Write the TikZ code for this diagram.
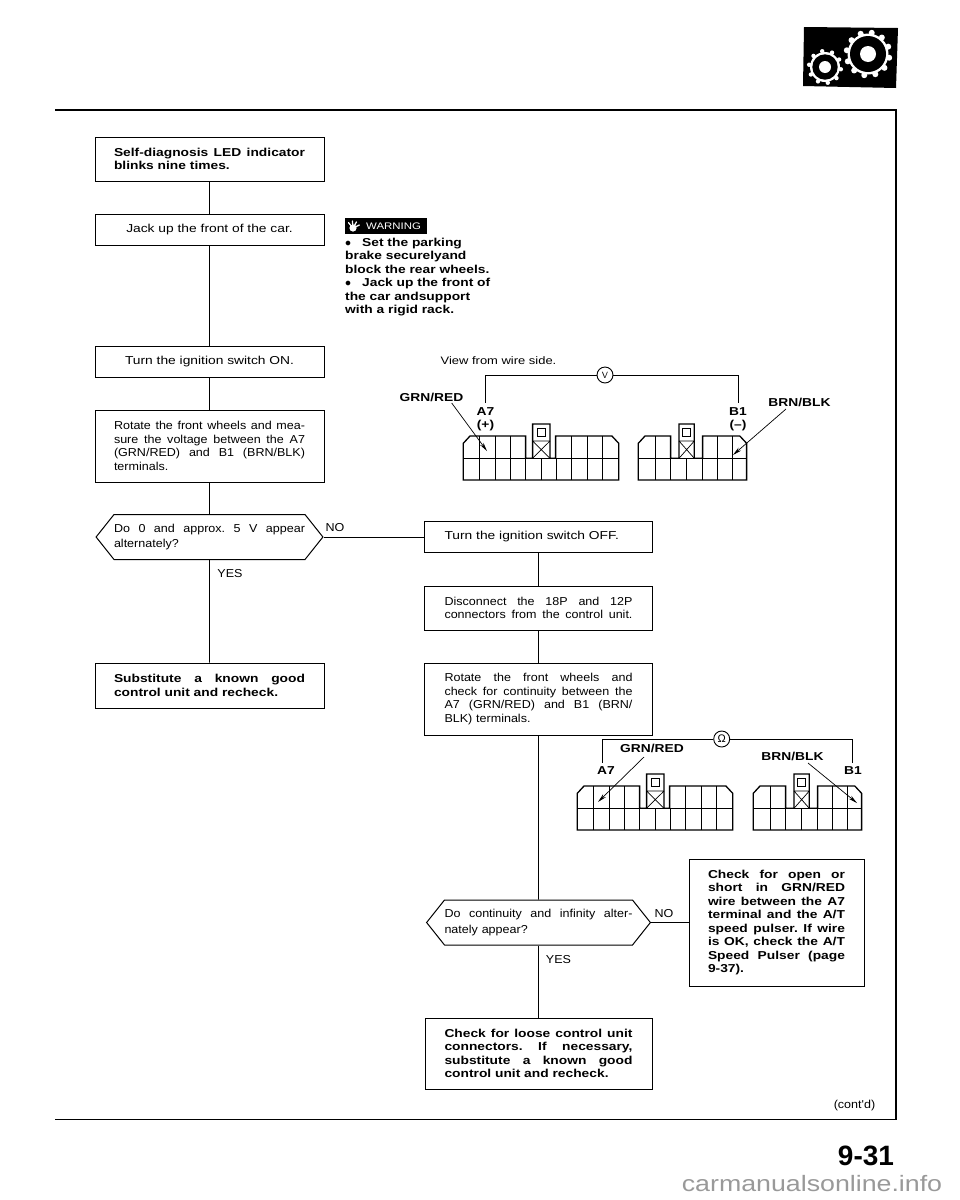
\documentclass[tikz,border=0pt]{standalone}
\usepackage{fontspec}
\setmainfont{Liberation Sans}
\newfontfamily\widefont[FakeStretch=1.2]{Liberation Sans}
\newfontfamily\midfont[FakeStretch=1.09]{Liberation Sans}
\usetikzlibrary{arrows.meta, shapes.symbols}

\newcommand{\fl}[1]{\makebox[\linewidth][s]{\spaceskip=.25em plus 1fil\xspaceskip=\spaceskip\relax #1}}

\tikzset{
    flowbox/.style={draw, line width=1pt, fill=white, inner xsep=0pt, inner ysep=0pt, align=left},
    plainlbl/.style={font=\midfont\fontsize{11.5}{13.5}\selectfont},
    boldlbl/.style={font=\widefont\bfseries\fontsize{11.5}{13.5}\selectfont},
    singlelbl/.style={font=\widefont\fontsize{11.5}{13.5}\selectfont},
    decision/.style={draw, line width=1pt, shape=signal, signal to=west and east, signal pointer angle=103, inner xsep=0pt, inner ysep=0pt, align=left},
    wire/.style={line width=0.9pt},
    pointer/.style={line width=0.7pt, -{Stealth[length=9pt,width=4pt]}},
    meter/.style={draw, circle, line width=0.9pt, fill=white, minimum size=16pt, inner sep=0pt},
    largeplug/.pic={
        \draw[line width=1.3pt] (0,44) -- (0,7.3) -- (6.7,0) -- (62.3,0) -- (62.3,22.3) -- (69.3,22.3) -- (69.3,-12) -- (86.7,-12) -- (86.7,22.3) -- (92.3,22.3) -- (92.3,0) -- (148.6,0) -- (155.4,7.3) -- (155.4,44) -- cycle;
        \draw[line width=0.7pt] (0,22.3) -- (155.4,22.3);
        \foreach \cx in {16.3,31.7,47,108.3,123.7,139} \draw[line width=0.7pt] (\cx,0) -- (\cx,44);
        \foreach \cx in {62.3,77.7,93} \draw[line width=0.7pt] (\cx,22.3) -- (\cx,44);
        \draw[line width=0.7pt] (69.3,5) -- (86.7,5) (69.3,5) -- (86.7,22.3) (86.7,5) -- (69.3,22.3);
        \draw[line width=0.7pt] (74,-8) rectangle (82,0);
    },
    smallplug/.pic={
        \draw[line width=1.3pt] (0,44) -- (0,7.3) -- (6.7,0) -- (32.3,0) -- (32.3,22.3) -- (40.7,22.3) -- (40.7,-12) -- (56,-12) -- (56,22.3) -- (64.3,22.3) -- (64.3,0) -- (101.5,0) -- (108.3,7.3) -- (108.3,44) -- cycle;
        \draw[line width=0.7pt] (0,22.3) -- (108.3,22.3);
        \foreach \cx in {16.7,79,93.7} \draw[line width=0.7pt] (\cx,0) -- (\cx,44);
        \foreach \cx in {32.3,48.3,64.3} \draw[line width=0.7pt] (\cx,22.3) -- (\cx,44);
        \draw[line width=0.7pt] (40.7,5) -- (56,5) (40.7,5) -- (56,22.3) (56,5) -- (40.7,22.3);
        \draw[line width=0.7pt] (44.5,-8) rectangle (52,0);
    },
}

\begin{document}
\begin{tikzpicture}[x=1pt, y=-1pt]
    \useasboundingbox (0,0) rectangle (960,1200);

    % page frame
    \draw[line width=1.2pt] (55,110) -- (896,110) -- (896,1119.5) -- (55,1119.5);

    % gear badge
    \fill (804,27) -- (898,28) -- (896,88) -- (803,86) -- cycle;
    \fill[white] (868,54) circle (20.5);
    \foreach \a in {0,30,...,330} \fill[white] (868,54) ++(\a+10:21.5) circle (3);
    \fill (868,54) circle (18);
    \fill[white] (868,54) circle (8);
    \fill[white] (825,67) circle (15);
    \foreach \a in {0,36,...,324} \fill[white] (825,67) ++(\a+8:16) circle (2.2);
    \fill (825,67) circle (12.7);
    \fill[white] (825,67) circle (6);

    % left column
    \node[flowbox, boldlbl, minimum width=229pt, minimum height=44pt, text width=191pt] (selfdiag) at (209.5,159) {\fl{Self-diagnosis LED indicator}\\blinks nine times.};
    \node[flowbox, singlelbl, minimum width=229pt, minimum height=31pt, align=center] (jackup) at (209.5,229.5) {Jack up the front of the car.};
    \node[flowbox, singlelbl, minimum width=229pt, minimum height=31pt, align=center] (turnon) at (209.5,361.5) {Turn the ignition switch ON.};
    \node[flowbox, plainlbl, minimum width=229pt, minimum height=72pt, text width=191pt] (measure) at (209.5,446) {\fl{Rotate the front wheels and mea-}\\\fl{sure the voltage between the A7}\\\fl{(GRN/RED) and B1 (BRN/BLK)}\\terminals.};
    \node[decision, plainlbl, minimum height=45pt, text width=191pt] (alternate) at (209.5,537) {\fl{Do 0 and approx. 5 V appear}\\[1.5pt]alternately?};
    \node[flowbox, boldlbl, minimum width=229pt, minimum height=45pt, text width=191pt] (substitute) at (209.5,685.5) {\fl{Substitute a known good}\\control unit and recheck.};

    \draw[wire] (selfdiag) -- (jackup);
    \draw[wire] (jackup) -- (turnon);
    \draw[wire] (turnon) -- (measure);
    \draw[wire] (measure) -- (alternate);
    \draw[wire] (alternate) -- (substitute);

    \node[plainlbl] (yesleft) at (230,574) {YES};
    \node[plainlbl] (noleft) at (335,528) {NO};

    % warning note
    \fill (345,218) rectangle (427,234);
    \fill[white] (353,228) circle (3.6);
    \foreach \a in {-60,-25,10,45} \draw[white, line width=1.3pt, line cap=round] (353,228) -- ++(\a-90+20:7);
    \node[anchor=west, text=white, font=\widefont\fontsize{9.5}{11}\selectfont, inner sep=0pt] (warnlbl) at (366,226) {WARNING};
    \node[boldlbl, anchor=north west, inner sep=0pt, align=left] (warntext) at (345,237.5) {%
        \makebox[17pt][l]{$\bullet$}Set the parking\\brake securelyand\\block the rear wheels.\\\makebox[17pt][l]{$\bullet$}Jack up the front of\\the car andsupport\\with a rigid rack.};

    % first connector view
    \node[font=\widefont\fontsize{10.8}{13}\selectfont] (viewlbl) at (498.5,361) {View from wire side.};
    \node[meter, font=\sffamily\fontsize{9}{9}\selectfont] (voltmeter) at (605,375) {V};
    \coordinate (vleft) at (485.3,403);
    \coordinate (vright) at (738.7,403);
    \draw[wire] (voltmeter) -| (vleft);
    \draw[wire] (voltmeter) -| (vright);
    \node[boldlbl] (grnone) at (431.5,397) {GRN/RED};
    \node[boldlbl] (brnone) at (799.5,402) {BRN/BLK};
    \node[boldlbl, align=center, inner sep=0pt] (aseven) at (485.5,419) {A7\\(+)};
    \node[boldlbl, align=center, inner sep=0pt] (bone) at (738,419) {B1\\(–)};
    \pic at (463.3,436) {largeplug};
    \pic at (638.3,436) {smallplug};
    \coordinate (aonetip) at (487,451);
    \coordinate (bonetip) at (733,455);
    \draw[pointer] (451.7,403) -- (aonetip);
    \draw[pointer] (786,409) -- (bonetip);

    % right column
    \node[flowbox, singlelbl, minimum width=228pt, minimum height=31pt, text width=188pt] (turnoff) at (538.5,537) {Turn the ignition switch OFF.};
    \node[flowbox, plainlbl, minimum width=228pt, minimum height=44pt, text width=188pt] (disconnect) at (538.5,608) {\fl{Disconnect the 18P and 12P}\\\fl{connectors from the control unit.}};
    \node[flowbox, plainlbl, minimum width=228pt, minimum height=72pt, text width=188pt] (continuity) at (538.5,699) {\fl{Rotate the front wheels and}\\\fl{check for continuity between the}\\\fl{A7 (GRN/RED) and B1 (BRN/}\\BLK) terminals.};
    \node[decision, plainlbl, minimum height=45pt, text width=188pt] (infinity) at (538.5,922.5) {\fl{Do continuity and infinity alter-}\\[2pt]nately appear?};
    \node[flowbox, boldlbl, minimum width=175pt, minimum height=127pt, text width=137pt] (openshort) at (776.5,922.5) {\fl{Check for open or}\\\fl{short in GRN/RED}\\\fl{wire between the A7}\\\fl{terminal and the A/T}\\\fl{speed pulser. If wire}\\\fl{is OK, check the A/T}\\\fl{Speed Pulser (page}\\9-37).};
    \node[flowbox, boldlbl, minimum width=227pt, minimum height=71pt, text width=188pt] (loose) at (538.5,1053.5) {\fl{Check for loose control unit}\\\fl{connectors. If necessary,}\\\fl{substitute a known good}\\control unit and recheck.};

    \draw[wire] (alternate.east) -- (turnoff.west);
    \draw[wire] (turnoff) -- (disconnect);
    \draw[wire] (disconnect) -- (continuity);
    \draw[wire] (continuity) -- (infinity);
    \draw[wire] (infinity.east) -- (openshort.west);
    \draw[wire] (infinity) -- (loose);

    \node[plainlbl] (yesright) at (558.5,960) {YES};
    \node[plainlbl] (noright) at (664,914) {NO};

    % second connector view
    \node[meter, font=\fontsize{11}{11}\selectfont] (ohmmeter) at (721.7,739) {Ω};
    \coordinate (oleft) at (602.7,763);
    \coordinate (oright) at (852.7,763);
    \draw[wire] (ohmmeter) -| (oleft);
    \draw[wire] (ohmmeter) -| (oright);
    \node[boldlbl] (grntwo) at (652,748) {GRN/RED};
    \node[boldlbl] (brntwo) at (792.5,756) {BRN/BLK};
    \node[boldlbl, inner sep=0pt] (asevenb) at (606,771) {A7};
    \node[boldlbl, inner sep=0pt] (boneb) at (853,771) {B1};
    \pic at (577.3,786) {largeplug};
    \pic at (753.3,786) {smallplug};
    \coordinate (atwotip) at (598,802);
    \coordinate (btwotip) at (857,803);
    \draw[pointer] (644,757) -- (atwotip);
    \draw[pointer] (808,763) -- (btwotip);

    % page foot
    \node[font=\midfont\fontsize{11.5}{13}\selectfont] (contd) at (854.5,1106) {(cont'd)};
    \node[font=\bfseries\fontsize{28}{30}\selectfont] (pageno) at (866,1156) {9-31};
    \node[text=black!40, font=\widefont\fontsize{22.3}{24}\selectfont, inner sep=0pt] (sitelbl) at (812,1184) {carmanualsonline.info};
\end{tikzpicture}
\end{document}
